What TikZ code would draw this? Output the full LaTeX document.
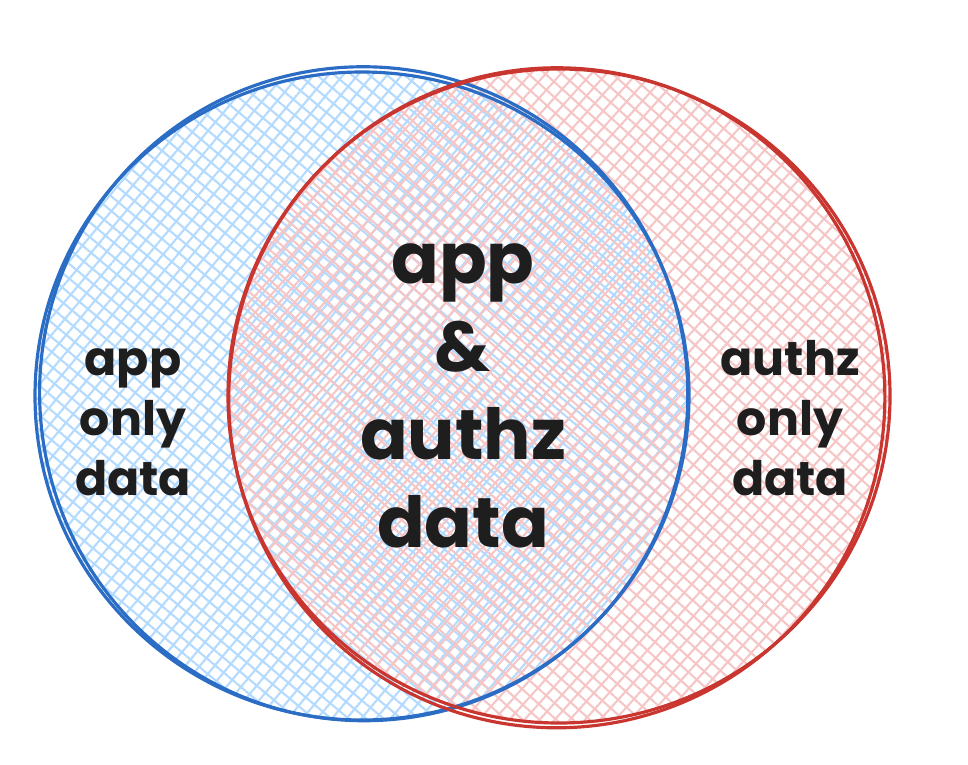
\documentclass[tikz,border=0pt]{standalone}
\usepackage{fontspec}
\setmainfont{Poppins}
\usetikzlibrary{patterns.meta}
\definecolor{appline}{HTML}{2B6CC4}
\definecolor{apphatch}{HTML}{B3DAFF}
\definecolor{authzline}{HTML}{C9352F}
\definecolor{authzhatch}{HTML}{F6C6C6}
\definecolor{ink}{HTML}{1E1E1E}

\begin{document}
\begin{tikzpicture}[x=0.01cm,y=-0.01cm]
\pgfmathsetmacro{\XA}{362}
\pgfmathsetmacro{\XB}{559}
\pgfmathsetmacro{\YC}{396}

\tikzset{
  hatch/.style={pattern={Lines[angle=#1,distance=3.2pt,line width=0.6pt]}},
  rim/.style={line width=0.9pt},
  label/.style={align=center, text=ink, font=\bfseries\fontsize{13.5}{17}\selectfont},
  biglabel/.style={align=center, text=ink, font=\bfseries\fontsize{20}{25}\selectfont},
}

\useasboundingbox (0,0) rectangle (968,764);

% fills
\fill[hatch=50, pattern color=apphatch] (\XA,\YC) ellipse [x radius=327, y radius=324];
\fill[hatch=-40, pattern color=apphatch] (\XA,\YC) ellipse [x radius=327, y radius=324];
\fill[hatch=48, pattern color=authzhatch] (\XB,\YC) ellipse [x radius=331, y radius=327];
\fill[hatch=-42, pattern color=authzhatch] (\XB,\YC) ellipse [x radius=331, y radius=327];

% outlines, drawn twice for a sketchy look
\draw[rim, appline] (\XA,\YC) ellipse [x radius=327, y radius=324];
\draw[rim, appline, rotate around={8:(\XA,\YC)}] (\XA+2,\YC-2) ellipse [x radius=324, y radius=327];
\draw[rim, authzline] (\XB,\YC) ellipse [x radius=331, y radius=327];
\draw[rim, authzline, rotate around={-6:(\XB,\YC)}] (\XB-2,\YC+2) ellipse [x radius=328, y radius=330];

\node[label] (apponly) at (133,422) {app\\only\\data};
\node[biglabel] (both) at (463,396) {app\\\&\\authz\\data};
\node[label] (authzonly) at (790,418) {authz\\only\\data};
\end{tikzpicture}
\end{document}
